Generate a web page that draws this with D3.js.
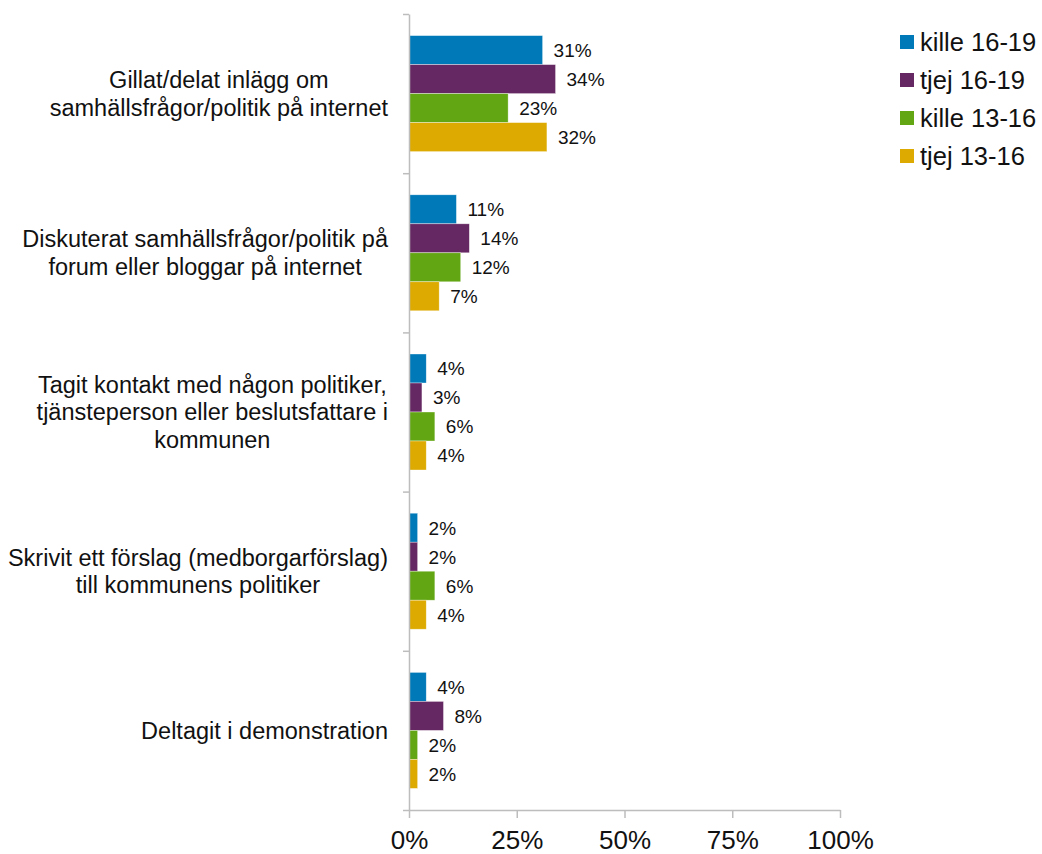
<!DOCTYPE html>
<html>
<head>
<meta charset="utf-8">
<script src="https://cdn.jsdelivr.net/npm/d3@7"></script>
<style>
  html, body { margin: 0; padding: 0; background: #fff; }
  svg { display: block; font-family: "Liberation Sans", Arial, sans-serif; }
</style>
</head>
<body>
<svg id="chart" width="1042" height="854"></svg>
<script>
// Activities (each label split into its display lines)
const categories = [
  ["Gillat/delat inlägg om", "samhällsfrågor/politik på internet"],
  ["Diskuterat samhällsfrågor/politik på", "forum eller bloggar på internet"],
  ["Tagit kontakt med någon politiker,", "tjänsteperson eller beslutsfattare i", "kommunen"],
  ["Skrivit ett förslag (medborgarförslag)", "till kommunens politiker"],
  ["Deltagit i demonstration"]
];

// Share (%) per group, in category order
const seriesNames = ["kille 16-19", "tjej 16-19", "kille 13-16", "tjej 13-16"];
const kille1619 = [31, 11, 4, 2, 4];
const tjej1619  = [34, 14, 3, 2, 8];
const kille1316 = [23, 12, 6, 6, 2];
const tjej1316  = [32, 7, 4, 4, 2];
const seriesValues = [kille1619, tjej1619, kille1316, tjej1316];
const seriesColors = ["#0079b9", "#662863", "#62a713", "#dcaa00"];

const xTicks = [0, 25, 50, 75, 100];

const svg = d3.select("#chart");
const plot = { left: 409, right: 840, top: 14, bottom: 810 };
const axisColor = "#bdbdbd";

const catIds = categories.map((_, i) => i);
const y = d3.scaleBand().domain(catIds).range([plot.top, plot.bottom]).padding(0);
const yInner = d3.scaleBand().domain(d3.range(seriesNames.length))
  .range([0, y.bandwidth()]).paddingInner(0).paddingOuter(0.745);
const x = d3.scaleLinear().domain([0, 100]).range([plot.left, plot.right]);

// Bars
const rows = [];
catIds.forEach(c => seriesValues.forEach((vals, s) => rows.push({ c, s, v: vals[c] })));

const g = svg.append("g");
g.selectAll("rect.bar").data(rows).enter().append("rect")
  .attr("class", "bar")
  .attr("x", x(0))
  .attr("y", d => y(d.c) + yInner(d.s))
  .attr("width", d => x(d.v) - x(0))
  .attr("height", yInner.bandwidth())
  .attr("fill", d => seriesColors[d.s])
  .attr("stroke", "#ffffff")
  .attr("stroke-opacity", 0.6)
  .attr("stroke-width", 0.6);

// Value labels
g.selectAll("text.val").data(rows).enter().append("text")
  .attr("class", "val")
  .attr("x", d => x(d.v) + 11)
  .attr("y", d => y(d.c) + yInner(d.s) + yInner.bandwidth() / 2)
  .attr("dy", "0.36em")
  .attr("font-size", 19)
  .attr("fill", "#111")
  .text(d => d.v + "%");

// Y axis: vertical line with ticks on band boundaries
const yAxis = svg.append("g").attr("transform", `translate(${plot.left},0)`)
  .call(d3.axisLeft(d3.scaleLinear().domain([0, categories.length]).range([plot.top, plot.bottom]))
    .tickValues(d3.range(categories.length + 1)).tickSize(6).tickSizeOuter(0).tickFormat(""));
yAxis.select(".domain").attr("stroke", axisColor).attr("stroke-width", 1.5);
yAxis.selectAll(".tick line").attr("stroke", axisColor).attr("stroke-width", 1.5);

// X axis
const xAxis = svg.append("g").attr("transform", `translate(0,${plot.bottom})`)
  .call(d3.axisBottom(x).tickValues(xTicks).tickSize(8).tickSizeOuter(0).tickFormat(d => d + "%"));
xAxis.select(".domain").attr("stroke", axisColor).attr("stroke-width", 1.5);
xAxis.selectAll(".tick line").attr("stroke", axisColor).attr("stroke-width", 1.5);
xAxis.selectAll(".tick text")
  .attr("y", 39).attr("dy", 0)
  .attr("font-size", 26)
  .attr("font-family", "Liberation Sans, Arial, sans-serif")
  .attr("fill", "#111");

// Category labels: centred lines, block right-aligned near the axis
const labelRight = 388;
const lineH = 27.5;
const catG = svg.append("g").attr("font-size", 23.5).attr("fill", "#111");
categories.forEach((lines, i) => {
  const t = catG.append("text").attr("text-anchor", "middle");
  const spans = lines.map((ln, k) => t.append("tspan").text(ln));
  const maxW = d3.max(spans, s => s.node().getComputedTextLength());
  const cx = labelRight - maxW / 2;
  const cy = y(i) + y.bandwidth() / 2;
  const y0 = cy - (lines.length - 1) * lineH / 2;
  spans.forEach((s, k) => s.attr("x", cx).attr("y", y0 + k * lineH).attr("dy", "0.35em"));
});

// Legend
const legend = svg.append("g").attr("transform", "translate(900,0)");
const legendY = [42, 80, 118, 156];
seriesNames.forEach((name, i) => {
  legend.append("rect").attr("x", 0).attr("y", legendY[i] - 7)
    .attr("width", 14).attr("height", 14).attr("fill", seriesColors[i]);
  legend.append("text").attr("x", 20).attr("y", legendY[i]).attr("dy", "0.35em")
    .attr("font-size", 25.5).attr("fill", "#111").text(name);
});
</script>
</body>
</html>
